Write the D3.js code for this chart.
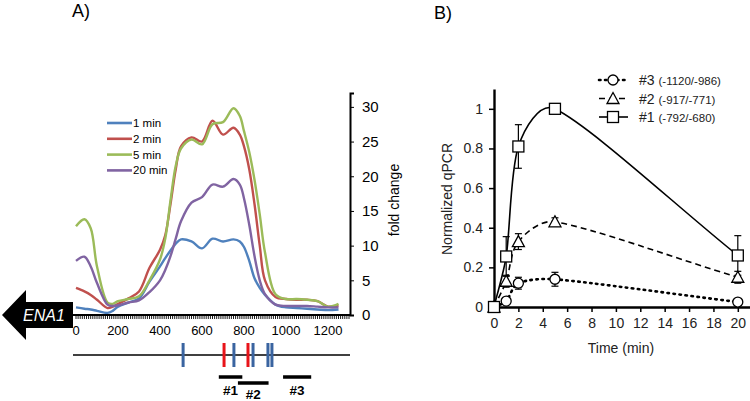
<!DOCTYPE html>
<html><head><meta charset="utf-8">
<script src="https://cdn.jsdelivr.net/npm/d3@7/dist/d3.min.js"></script>
<style>body{margin:0;background:#fff}svg{display:block}text{font-family:"Liberation Sans",Arial,sans-serif}</style>
</head><body><svg id="c" width="750" height="401"></svg>
<script>
// ---------- Panel A data ----------
const posA = [0,40,70,100,150,175,200,250,300,350,400,425,450,475,500,550,600,650,700,750,780,800,825,850,875,900,950,1000,1050,1100,1150,1200,1250];
const seriesNamesA = ["1 min","2 min","5 min","20 min"];
const blue1   = [1.1,0.9,0.8,0.6,0.3,0.6,1.2,1.8,2.4,4.8,7.0,8.2,9.3,10.3,10.9,10.6,9.6,11.0,10.6,10.9,10.6,9.8,7.8,5.3,3.9,2.9,1.5,1.1,1.0,0.9,0.8,0.7,0.8];
const red2    = [3.9,3.4,2.9,2.2,1.0,1.2,1.6,2.4,3.4,6.8,9.4,11.5,16.0,21.0,24.3,25.6,25.0,28.0,26.0,27.0,26.0,24.3,21.0,16.0,10.0,5.0,2.6,2.3,2.2,2.2,2.0,1.2,1.4];
const green5  = [12.8,13.8,12.5,7.0,1.8,1.6,2.0,2.3,2.7,5.0,8.0,11.0,16.5,21.5,24.0,25.3,24.6,27.5,27.8,29.8,28.7,26.5,23.5,19.5,14.5,9.0,3.0,2.3,2.3,2.2,2.0,1.2,1.6];
const purple20= [7.8,8.4,7.0,4.6,1.5,1.3,1.4,1.8,2.1,3.3,5.0,6.5,8.5,11.0,13.5,16.2,17.0,18.8,18.5,19.6,18.8,16.8,13.0,8.5,5.0,3.0,1.5,1.3,1.3,1.3,1.2,1.1,1.1];
const colorsA = ["#4F81BD","#C0504D","#9BBB59","#8064A2"];
const xTicksA = [0,200,400,600,800,1000,1200];
const yTicksA = [0,5,10,15,20,25,30];
const siteBlue = [510,752,843,914,933];
const siteRed  = [705,819];
const primerNames = ["#1","#2","#3"];
const primerStart = [680,771,986];
const primerEnd   = [792,917,1120];

// ---------- Panel B data ----------
const timeB = [0,1,2,5,20];
const amp1 = [0.0,0.255,0.81,1.0,0.26];
const amp1Err = [0,0.1,0.11,0,0.1];
const amp2 = [0.0,0.13,0.33,0.43,0.15];
const amp2Err = [0,0.03,0.04,0.02,0.03];
const amp3 = [0.0,0.03,0.12,0.14,0.025];
const amp3Err = [0,0,0.03,0.035,0];
const legendB = [["#3","(-1120/-986)"],["#2","(-917/-771)"],["#1","(-792/-680)"]];
const xTicksB = [0,2,4,6,8,10,12,14,16,18,20];
const yTicksB = [0,0.2,0.4,0.6,0.8,1];

const svg = d3.select("#c");

// ======== Panel A ========
svg.append("text").attr("x",72).attr("y",17).attr("font-size",18).text("A)");
const xA = d3.scaleLinear().domain([0,1300]).range([76,349]);
const yA = d3.scaleLinear().domain([0,32]).range([315,93]);
const gA = svg.append("g");

// ENA1 arrow
const arrowPts = [[2,315],[26,290],[26,302],[73,302],[73,328],[26,328],[26,340]];
gA.append("path").attr("d", d3.line()(arrowPts)+"Z").attr("fill","#000");
gA.append("text").attr("x",44).attr("y",321).attr("text-anchor","middle").attr("fill","#fff")
  .attr("font-size",16).attr("font-style","italic").text("ENA1");

// curves
const seriesA = [blue1, red2, green5, purple20];
const lineA = d3.line().x((d,i)=>xA(posA[i])).y(d=>yA(d)).curve(d3.curveCatmullRom.alpha(0.5));
seriesA.forEach((s,k)=>{
  gA.append("path").attr("d",lineA(s)).attr("fill","none").attr("stroke",colorsA[k]).attr("stroke-width",2.4);
});

// x axis
gA.append("line").attr("x1",73).attr("x2",350).attr("y1",315).attr("y2",315).attr("stroke","#000").attr("stroke-width",2);
const minor = d3.range(0,1301,10);
gA.selectAll(".mt").data(minor).enter().append("line")
  .attr("x1",d=>xA(d)).attr("x2",d=>xA(d)).attr("y1",315).attr("y2",319).attr("stroke","#000").attr("stroke-width",0.9);
gA.selectAll(".xl").data(xTicksA).enter().append("text")
  .attr("x",d=>xA(d)).attr("y",335).attr("text-anchor","middle").attr("font-size",13).text(d=>d);

// right y axis
const yAxA = d3.axisRight(yA).tickValues(yTicksA).tickSize(4).tickPadding(8);
const ya = gA.append("g").attr("transform","translate(350,0)").call(yAxA);
ya.select(".domain").attr("stroke-width",2);
ya.selectAll("text").attr("font-size",15).attr("font-family","Liberation Sans, Arial, sans-serif");
svg.append("text").attr("transform","translate(399,200) rotate(-90)").attr("text-anchor","middle")
  .attr("font-size",14).text("fold change");

// legend A
const legA = gA.append("g");
seriesNamesA.forEach((n,k)=>{
  const yy = 123 + k*15.8;
  legA.append("line").attr("x1",107).attr("x2",132).attr("y1",yy).attr("y2",yy).attr("stroke",colorsA[k]).attr("stroke-width",2.6);
  legA.append("text").attr("x",133).attr("y",yy+4).attr("font-size",11.5).attr("font-family","Lato, 'Open Sans', sans-serif").text(n);
});

// gene map
gA.append("line").attr("x1",73).attr("x2",350).attr("y1",355).attr("y2",355).attr("stroke","#000").attr("stroke-width",1.3);
gA.selectAll(".sb").data(siteBlue).enter().append("line")
  .attr("x1",d=>xA(d)).attr("x2",d=>xA(d)).attr("y1",343).attr("y2",367).attr("stroke","#3A64A0").attr("stroke-width",3);
gA.selectAll(".sr").data(siteRed).enter().append("line")
  .attr("x1",d=>xA(d)).attr("x2",d=>xA(d)).attr("y1",343).attr("y2",367).attr("stroke","#E8141A").attr("stroke-width",3);
const primerY = [377,383,377];
const labelY = [395,399,395];
primerNames.forEach((n,k)=>{
  gA.append("line").attr("x1",xA(primerStart[k])).attr("x2",xA(primerEnd[k])).attr("y1",primerY[k]).attr("y2",primerY[k])
    .attr("stroke","#000").attr("stroke-width",3.5);
  gA.append("text").attr("x",(xA(primerStart[k])+xA(primerEnd[k]))/2).attr("y",labelY[k]).attr("text-anchor","middle")
    .attr("font-size",13.5).attr("font-weight","bold").text(n);
});

// ======== Panel B ========
svg.append("text").attr("x",434).attr("y",19).attr("font-size",18).text("B)");
const xB = d3.scaleLinear().domain([0,21]).range([494,750]);
const yB = d3.scaleLinear().domain([0,1.1]).range([307,89]);
const gB = svg.append("g");

const xAxB = d3.axisBottom(xB).tickValues(xTicksB).tickSize(5).tickPadding(6).tickSizeOuter(0);
const xb = gB.append("g").attr("transform","translate(0,307)").call(xAxB);
const yAxB = d3.axisLeft(yB).tickValues(yTicksB).tickSize(5).tickPadding(6).tickSizeOuter(0).tickFormat(d=>d===0?"0":(d===1?"1":d.toFixed(1)));
const yb = gB.append("g").attr("transform","translate(494,0)").call(yAxB);
[xb,yb].forEach(a=>{
  a.select(".domain").attr("stroke-width",2.4);
  a.selectAll(".tick line").attr("stroke-width",1.5);
  a.selectAll("text").attr("font-size",14).attr("font-family","Liberation Sans, Arial, sans-serif").attr("fill","#222");
});
svg.append("text").attr("x",621).attr("y",353).attr("text-anchor","middle").attr("font-size",14).attr("fill","#222").text("Time (min)");
svg.append("text").attr("transform","translate(452,199) rotate(-90)").attr("text-anchor","middle").attr("font-size",14).attr("fill","#222").text("Normalized qPCR");

// Excel-like smoothed line: Bezier with tangents (P[i+1]-P[i-1])/6, arms clamped to 1/3 of segment length
function smoothPath(vals){
  const P = vals.map((v,i)=>[xB(timeB[i]), yB(v)]);
  const n = P.length;
  const p = d3.path();
  p.moveTo(P[0][0],P[0][1]);
  const tan = i => {
    const a = P[Math.max(0,i-1)], b = P[Math.min(n-1,i+1)];
    const f = (i===0||i===n-1) ? 1/3 : 1/6;
    return [(b[0]-a[0])*f, (b[1]-a[1])*f];
  };
  for(let i=0;i<n-1;i++){
    const a = P[i], b = P[i+1];
    const L = Math.hypot(b[0]-a[0], b[1]-a[1]);
    let t1 = tan(i), t2 = tan(i+1);
    const clamp = t => { const l = Math.hypot(t[0],t[1]); const m = L/3; return l>m ? [t[0]*m/l, t[1]*m/l] : t; };
    t1 = clamp(t1); t2 = clamp(t2);
    p.bezierCurveTo(a[0]+t1[0], a[1]+t1[1], b[0]-t2[0], b[1]-t2[1], b[0], b[1]);
  }
  return p.toString();
}
const seriesB = [
  {v:amp3, e:amp3Err, dash:"1.5,4.5", w:2.6, cap:"round", m:"circle"},
  {v:amp2, e:amp2Err, dash:"6,4", w:1.6, cap:"butt", m:"triangle"},
  {v:amp1, e:amp1Err, dash:null, w:1.6, cap:"butt", m:"square"}
];
function marker(g, type, x, y){
  if(type==="circle") g.append("circle").attr("cx",x).attr("cy",y).attr("r",5).attr("fill","#fff").attr("stroke","#000").attr("stroke-width",1.3);
  else if(type==="square") g.append("rect").attr("x",x-5.5).attr("y",y-5.5).attr("width",11).attr("height",11).attr("fill","#fff").attr("stroke","#000").attr("stroke-width",1.3);
  else g.append("path").attr("d",`M${x},${y-6}L${x+6},${y+5}L${x-6},${y+5}Z`).attr("fill","#fff").attr("stroke","#000").attr("stroke-width",1.3);
}
seriesB.forEach(s=>{
  gB.append("path").attr("d",smoothPath(s.v)).attr("fill","none").attr("stroke","#000").attr("stroke-width",s.w)
    .attr("stroke-dasharray",s.dash).attr("stroke-linecap",s.cap);
});
seriesB.forEach(s=>{
  s.v.forEach((v,i)=>{
    if(s.e[i]>0){
      const x = xB(timeB[i]);
      gB.append("line").attr("x1",x).attr("x2",x).attr("y1",yB(v+s.e[i])).attr("y2",yB(v-s.e[i])).attr("stroke","#000").attr("stroke-width",1.2);
      [v+s.e[i], v-s.e[i]].forEach(t=>gB.append("line").attr("x1",x-3.5).attr("x2",x+3.5).attr("y1",yB(t)).attr("y2",yB(t)).attr("stroke","#000").attr("stroke-width",1.2));
    }
  });
});
seriesB.forEach(s=>{
  s.v.forEach((v,i)=>marker(gB, s.m, xB(timeB[i]), yB(v)));
});

// legend B
legendB.forEach((l,k)=>{
  const yy = 80 + k*18.5;
  const s = seriesB[k];
  gB.append("line").attr("x1",599).attr("x2",628).attr("y1",yy).attr("y2",yy).attr("stroke","#000").attr("stroke-width",s.w)
    .attr("stroke-dasharray",s.dash).attr("stroke-linecap",s.cap);
  marker(gB, s.m, 613, yy);
  const t = gB.append("text").attr("x",639).attr("y",yy+5).attr("font-size",14).attr("fill","#222");
  t.append("tspan").text(l[0]+" ");
  t.append("tspan").attr("font-size",11.5).text(l[1]);
});
</script></body></html>
